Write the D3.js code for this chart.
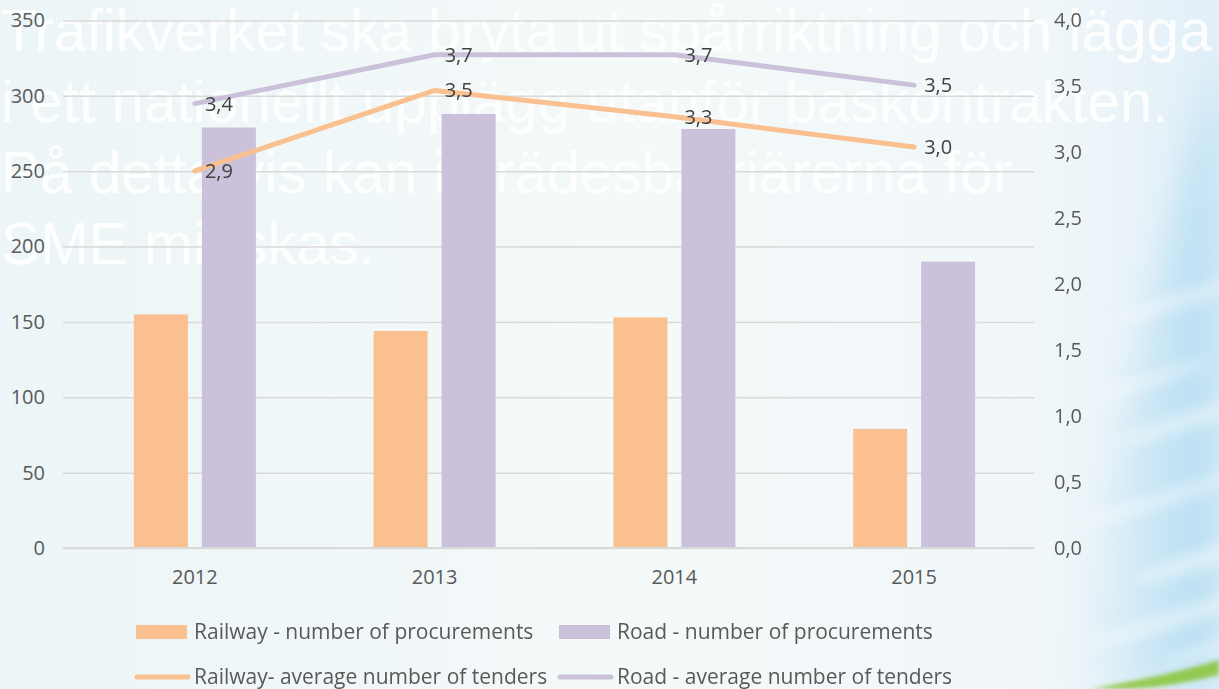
<!DOCTYPE html>
<html>
<head>
<meta charset="utf-8">
<script src="https://cdn.jsdelivr.net/npm/d3@7"></script>
<style>
  html, body { margin: 0; padding: 0; background: #F3F8F8; }
  svg { display: block; }
  .axis text { font-family: "Open Sans", sans-serif; font-size: 20px; fill: #595959; }
  .dlabel { font-family: "Open Sans", sans-serif; font-size: 20px; fill: #404040; }
  .legend text { font-family: "Open Sans", sans-serif; font-size: 21px; fill: #595959; }
  .overlay { font-family: "Liberation Sans", Arial, sans-serif; font-size: 58.5px; fill: #fff; }
</style>
</head>
<body>
<div id="chart"></div>
<script>
// Data
const years = ["2012", "2013", "2014", "2015"];
const railwayProcurements = [155, 144, 153, 79];
const roadProcurements = [279, 288, 278, 190];
const railwayTenders = [2.86, 3.47, 3.27, 3.04];
const roadTenders = [3.37, 3.74, 3.74, 3.51];
const leftTicks = [0, 50, 100, 150, 200, 250, 300, 350];
const rightTicks = [0, 0.5, 1, 1.5, 2, 2.5, 3, 3.5, 4];
const overlayLines = [
    "Trafikverket ska bryta ut spårriktning och lägga",
    "i ett nationellt upplägg utanför baskontrakten.",
    "På detta vis kan inträdesbarriärerna för",
    "SME minskas."
];

const W = 1219, H = 689;
const orange = "#FAC090", purple = "#CCC1DA";

const svg = d3.select("#chart").append("svg")
    .attr("width", W)
    .attr("height", H);

// Background
const defs = svg.append("defs");
const bg = defs.append("linearGradient").attr("id", "bg").attr("x1", 0).attr("x2", 1).attr("y1", 0).attr("y2", 0);
bg.append("stop").attr("offset", 0).attr("stop-color", "#ECF5F7");
bg.append("stop").attr("offset", 0.5).attr("stop-color", "#F4F9F9");
bg.append("stop").attr("offset", 0.85).attr("stop-color", "#F1F7F9");
bg.append("stop").attr("offset", 1).attr("stop-color", "#E1EFF8");
const side = defs.append("linearGradient").attr("id", "side").attr("x1", 0).attr("x2", 1).attr("y1", 0).attr("y2", 0);
side.append("stop").attr("offset", 0).attr("stop-color", "#DDEFF8").attr("stop-opacity", 0);
side.append("stop").attr("offset", 0.5).attr("stop-color", "#CDE8F6");
side.append("stop").attr("offset", 1).attr("stop-color", "#B3DDF3");
defs.append("filter").attr("id", "blur").append("feGaussianBlur").attr("stdDeviation", 18);
defs.append("filter").attr("id", "blur6").append("feGaussianBlur").attr("stdDeviation", 7);
defs.append("filter").attr("id", "blur2").append("feGaussianBlur").attr("stdDeviation", 2);

svg.append("rect").attr("width", W).attr("height", H).attr("fill", "url(#bg)");

svg.append("path")
    .attr("d", "M1219,60 C1160,250 1110,480 1070,689 L1219,689 Z")
    .attr("fill", "url(#side)")
    .attr("filter", "url(#blur)");

const streaks = svg.append("g").attr("filter", "url(#blur6)");
[[1180, 300, 70, 6], [1190, 420, 80, 7], [1160, 500, 90, 6], [1200, 560, 70, 8], [1170, 620, 90, 7], [1210, 650, 50, 5], [1150, 380, 60, 5]]
    .forEach(([cx, cy, rx, ry]) => {
        streaks.append("ellipse")
            .attr("cx", cx).attr("cy", cy).attr("rx", rx).attr("ry", ry)
            .attr("transform", `rotate(-18,${cx},${cy})`)
            .attr("fill", "#FFFFFF").attr("opacity", 0.5);
    });
svg.append("path")
    .attr("d", "M1090,689 C1140,680 1180,672 1219,660 L1219,675 C1180,684 1150,689 1120,689 Z")
    .attr("fill", "#8DC63F")
    .attr("filter", "url(#blur2)")
    .attr("opacity", 0.9);

// Overlay text (behind chart)
svg.append("g").selectAll("text")
    .data(overlayLines)
    .join("text")
    .attr("class", "overlay")
    .attr("x", 1)
    .attr("y", (d, i) => 51 + i * 71)
    .attr("opacity", 0.92)
    .text(d => d);

// Scales
const plotLeft = 63, plotRight = 1034, plotTop = 20.5, plotBottom = 548;
const x = d3.scaleBand().domain(years).range([75, 1034]);
const series = ["railway", "road"];
const x1 = d3.scaleBand().domain(series).range([-61, 61]).paddingInner(0.206);
const yL = d3.scaleLinear().domain([0, 350]).range([plotBottom, plotTop]);
const yR = d3.scaleLinear().domain([0, 4]).range([plotBottom, plotTop]);
const cx = d => x(d) + x.bandwidth() / 2;
const fmt = d => d.toFixed(1).replace(".", ",");

// Left axis with gridlines
const gl = svg.append("g")
    .attr("class", "axis")
    .attr("transform", `translate(${plotLeft},0)`)
    .call(d3.axisLeft(yL).tickValues(leftTicks).tickSize(-(plotRight - plotLeft)).tickPadding(18));
gl.select(".domain").remove();
gl.selectAll(".tick line").attr("stroke", "#D9D9D9").attr("stroke-width", 1.5);

// Right axis
const gr = svg.append("g")
    .attr("class", "axis")
    .attr("transform", `translate(${plotRight},0)`)
    .call(d3.axisRight(yR).tickValues(rightTicks).tickSize(0).tickPadding(20).tickFormat(fmt));
gr.select(".domain").remove();

// Bottom axis
const gb = svg.append("g")
    .attr("class", "axis")
    .attr("transform", `translate(0,${plotBottom})`)
    .call(d3.axisBottom(x).tickSize(0).tickPadding(22));
gb.select(".domain").remove();

// Bars
const barData = years.map((y, i) => [
    {year: y, key: "railway", value: railwayProcurements[i], color: orange},
    {year: y, key: "road", value: roadProcurements[i], color: purple}
]).flat();

svg.append("g").selectAll("rect")
    .data(barData)
    .join("rect")
    .attr("x", d => cx(d.year) + x1(d.key))
    .attr("y", d => yL(d.value))
    .attr("width", x1.bandwidth())
    .attr("height", d => yL(0) - yL(d.value))
    .attr("fill", d => d.color);

// baseline
svg.append("line")
    .attr("x1", plotLeft).attr("x2", plotRight)
    .attr("y1", plotBottom).attr("y2", plotBottom)
    .attr("stroke", "#D9D9D9").attr("stroke-width", 2);

// Lines
const line = d3.line().x(d => cx(d.year)).y(d => yR(d.value));
const lineSeries = [
    {color: orange, values: years.map((y, i) => ({year: y, value: railwayTenders[i]}))},
    {color: purple, values: years.map((y, i) => ({year: y, value: roadTenders[i]}))}
];

lineSeries.forEach(s => {
    svg.append("path")
        .datum(s.values)
        .attr("fill", "none")
        .attr("stroke", s.color)
        .attr("stroke-width", 5)
        .attr("stroke-linecap", "round")
        .attr("stroke-linejoin", "round")
        .attr("d", line);

    svg.append("g").selectAll("text")
        .data(s.values)
        .join("text")
        .attr("class", "dlabel")
        .attr("x", d => cx(d.year) + 10)
        .attr("y", d => yR(d.value))
        .attr("dy", "0.35em")
        .text(d => fmt(d.value));
});

// Legend
const legend = svg.append("g").attr("class", "legend");
const legendItems = [
    {label: "Railway - number of procurements", color: orange, type: "bar", x: 136, y: 632},
    {label: "Road - number of procurements", color: purple, type: "bar", x: 559, y: 632},
    {label: "Railway- average number of tenders", color: orange, type: "line", x: 136, y: 677},
    {label: "Road - average number of tenders", color: purple, type: "line", x: 559, y: 677}
];
legendItems.forEach(d => {
    if (d.type === "bar") {
        legend.append("rect")
            .attr("x", d.x).attr("y", d.y - 7)
            .attr("width", 51).attr("height", 14)
            .attr("fill", d.color);
    } else {
        legend.append("line")
            .attr("x1", d.x + 1).attr("x2", d.x + 52)
            .attr("y1", d.y).attr("y2", d.y)
            .attr("stroke", d.color)
            .attr("stroke-width", 5)
            .attr("stroke-linecap", "round");
    }
    legend.append("text")
        .attr("x", d.x + 58)
        .attr("y", d.y)
        .attr("dy", "0.35em")
        .text(d.label);
});
</script>
</body>
</html>
